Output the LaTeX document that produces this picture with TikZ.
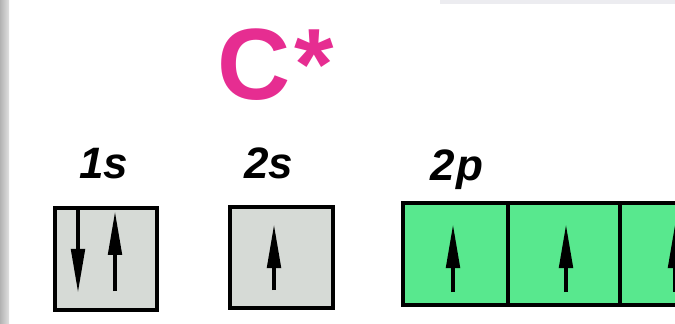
\documentclass[tikz,border=0pt]{standalone}
\usepackage{fontspec}
\setmainfont{Liberation Sans}
\usetikzlibrary{arrows.meta}

\definecolor{starpink}{RGB}{230,45,145}
\definecolor{orbgray}{RGB}{214,218,214}
\definecolor{orbgreen}{RGB}{88,232,142}

\tikzset{every picture/.style={line width=0.75pt}}
\tikzset{
  orbbox/.style={draw=black, line width=3.5pt, inner sep=0pt},
  sublabel/.style={anchor=base west, inner sep=0pt, font=\fontsize{33}{33}\selectfont\bfseries\itshape},
  spin/.style={line width=3pt, -{Triangle[length=33pt,width=10pt]}},
}

\begin{document}
\begin{tikzpicture}[x=0.75pt,y=0.75pt,yscale=-1,xscale=1]
\useasboundingbox (0,0) rectangle (675,324);
\clip (0,0) rectangle (675,324);

%Shape: Rectangle, left edge strip
\fill [left color=black!30, right color=black!12] (0,0) rectangle (9,324);
%Shape: Rectangle, top right bar
\fill [color={rgb, 255:red, 236; green, 236; blue, 240 }] (440,0) rectangle (675,4);

% Text Node
\node (title) [anchor=base west, inner sep=0pt, text=starpink, font=\fontsize{76}{76}\selectfont\bfseries] at (217,100) {C\kern3pt*};

% Text Node
\node (lbl1s) [sublabel] at (79,179) {1s};
% Text Node
\node (lbl2s) [sublabel] at (244,179) {2s};
% Text Node
\node (lbl2p) [sublabel] at (430,181) {2\kern1pt p};

%Shape: Square 1s
\node (s1) [orbbox, fill=orbgray, minimum width=76.5pt, minimum height=76.5pt] at (106,259) {};
%Shape: Square 2s
\node (s2) [orbbox, fill=orbgray, minimum width=77.25pt, minimum height=75.75pt] at (281.5,257.5) {};
%Shape: Squares 2p
\node (p1) [orbbox, fill=orbgreen, minimum width=78.75pt, minimum height=76.5pt] at (455.5,254) {};
\node (p2) [orbbox, fill=orbgreen, minimum width=84pt, minimum height=76.5pt] at (564,254) {};
\node (p3) [orbbox, fill=orbgreen, minimum width=80.25pt, minimum height=76.5pt] at (673.5,254) {};

%Spin arrows
\draw [spin] (78,210) -- (78,293) ;
\draw [spin] (115,291) -- (115,211) ;
\draw [spin] (274,290) -- (274,224) ;
\draw [spin] (453,292) -- (453,224) ;
\draw [spin] (566,292) -- (566,224) ;
\draw [spin] (675,292) -- (675,224) ;

\end{tikzpicture}
\end{document}
